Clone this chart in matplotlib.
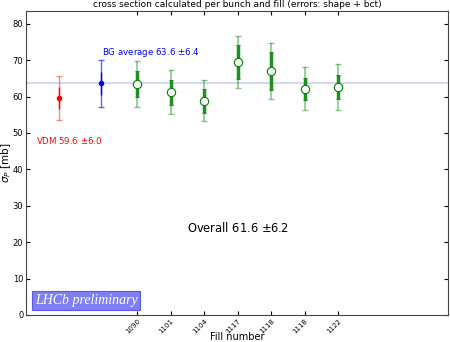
import matplotlib
matplotlib.use("Agg")
import matplotlib.pyplot as plt

fills = ["1090", "1101", "1104", "1117", "1118", "1118", "1122"]
sigma = [63.5, 61.2, 58.8, 69.5, 67.0, 62.1, 62.6]
err_inner = [3.6, 3.4, 3.2, 4.6, 5.3, 3.0, 3.4]
err_outer = [6.3, 6.0, 5.6, 7.2, 7.6, 5.9, 6.2]

vdm_val, vdm_in, vdm_out = 59.6, 3.0, 6.0
bg_val, bg_in, bg_out = 63.6, 3.2, 6.4
overall_val, overall_err = 61.6, 6.2

fig = plt.figure(figsize=(4.5, 3.42), dpi=100)
ax = fig.add_axes([0.058, 0.079, 0.938, 0.889])

x_fill = list(range(1, len(fills) + 1))
x_vdm, x_bg = -1.33, -0.07

# reference line
ax.axhline(bg_val, color="#c8d0f8", lw=1.5, alpha=0.8, zorder=0)

# VDM
ax.errorbar([x_vdm], [vdm_val], yerr=[vdm_out], fmt="none", ecolor="red", alpha=0.45,
            elinewidth=1, capsize=2.5)
ax.errorbar([x_vdm], [vdm_val], yerr=[vdm_in], fmt="o", color="red", ms=4,
            elinewidth=1, capsize=2.5, mew=0)
# BG
ax.errorbar([x_bg], [bg_val], yerr=[bg_out], fmt="none", ecolor="blue", alpha=0.6,
            elinewidth=1, capsize=2.5)
ax.errorbar([x_bg], [bg_val], yerr=[bg_in], fmt="o", color="blue", ms=4,
            elinewidth=1, capsize=2.5, mew=0)
# fills
ax.errorbar(x_fill, sigma, yerr=err_outer, fmt="none", ecolor="green", alpha=0.45,
            elinewidth=1.2, capsize=2.5)
ax.errorbar(x_fill, sigma, yerr=err_inner, fmt="none", ecolor="#1f8f1f",
            elinewidth=2.5, capsize=1.5, capthick=0.8)
ax.plot(x_fill, sigma, "o", mfc="white", mec="green", ms=6, mew=0.8, ls="none")

ax.set_xlim(-2.31, 10.28)
ax.set_ylim(0, 83.5)
ax.set_xticks(x_fill)
ax.set_xticklabels(fills, rotation=45, fontsize=5, ha="right", rotation_mode="anchor")
ax.set_yticks(range(0, 81, 10))
ax.tick_params(axis="y", labelsize=6, direction="in", right=True, length=3, pad=2)
ax.tick_params(axis="x", direction="in", top=True, length=3, pad=2)
ax.set_xlabel("Fill number", fontsize=7)
ax.xaxis.set_label_coords(0.5, -0.056)
ax.set_ylabel(r"$\sigma_P$ [mb]", fontsize=7.5)
ax.yaxis.set_label_coords(-0.03, 0.5)
ax.set_title("cross section calculated per bunch and fill (errors: shape + bct)",
             fontsize=6.5, pad=3)

ax.text(x_bg + 0.02, 72.0, r"BG average %.1f $\pm$%.1f" % (bg_val, bg_out),
        color="blue", fontsize=6.2, ha="left", va="center")
ax.text(-2.0, 47.8, r"VDM %.1f $\pm$%.1f" % (vdm_val, vdm_out),
        color="red", fontsize=6.2, ha="left", va="center")
ax.text(4.0, 23.8, r"Overall %.1f $\pm$%.1f" % (overall_val, overall_err),
        color="black", fontsize=8.3, ha="center", va="center")
ax.text(-2.05, 2.2, "LHCb preliminary", color="white", fontsize=10,
        family="Liberation Serif", style="italic", ha="left", va="bottom",
        bbox=dict(boxstyle="square,pad=0.2", fc="#7f7ff5", ec="#5a5ae8", lw=0.8))

for s in ax.spines.values():
    s.set_color("#444444")

fig.savefig("out.png", dpi=100)
